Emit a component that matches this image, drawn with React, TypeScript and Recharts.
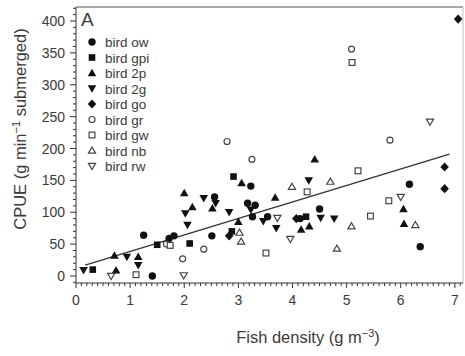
import React from "react";
import { ScatterChart, Scatter, XAxis, YAxis, ReferenceLine } from "recharts";

// values (x = fish density, y = CPUE)
const birdOw = [
  { x: 1.41, y: 0 }, { x: 1.25, y: 64 }, { x: 1.72, y: 59 }, { x: 1.81, y: 63 },
  { x: 2.51, y: 63 }, { x: 2.56, y: 124 }, { x: 3.23, y: 141 }, { x: 3.17, y: 114 },
  { x: 3.31, y: 111 }, { x: 3.26, y: 93 }, { x: 3.54, y: 93 }, { x: 4.14, y: 90 },
  { x: 4.5, y: 105 }, { x: 6.16, y: 144 }, { x: 6.36, y: 46 },
];
const birdGpi = [
  { x: 0.31, y: 10 }, { x: 1.5, y: 49 }, { x: 2.1, y: 51 }, { x: 2.91, y: 156 },
  { x: 2.88, y: 70 }, { x: 4.25, y: 93 },
];
const bird2p = [
  { x: 0.74, y: 9 }, { x: 0.71, y: 32 }, { x: 1.15, y: 30 }, { x: 2.0, y: 130 },
  { x: 2.15, y: 108 }, { x: 2.52, y: 106 }, { x: 3.06, y: 146 }, { x: 3.0, y: 85 },
  { x: 3.68, y: 123 }, { x: 4.41, y: 183 }, { x: 4.16, y: 73 }, { x: 4.31, y: 78 },
  { x: 6.05, y: 105 }, { x: 6.06, y: 82 },
];
const bird2g = [
  { x: 0.14, y: 9 }, { x: 0.94, y: 30 }, { x: 1.15, y: 17 }, { x: 2.02, y: 98 },
  { x: 2.06, y: 80 }, { x: 2.36, y: 122 }, { x: 2.58, y: 114 }, { x: 2.83, y: 100 },
  { x: 3.23, y: 104 }, { x: 3.46, y: 86 }, { x: 3.7, y: 75 }, { x: 4.3, y: 150 },
  { x: 4.52, y: 91 }, { x: 4.77, y: 90 },
];
const birdGo = [
  { x: 2.83, y: 63 }, { x: 4.07, y: 90 }, { x: 6.81, y: 171 }, { x: 6.81, y: 137 },
  { x: 7.06, y: 403 },
];
const birdGr = [
  { x: 1.67, y: 50 }, { x: 1.97, y: 27 }, { x: 2.36, y: 42 }, { x: 2.79, y: 211 },
  { x: 3.25, y: 183 }, { x: 5.09, y: 356 }, { x: 5.8, y: 213 },
];
const birdGw = [
  { x: 1.11, y: 2 }, { x: 1.74, y: 48 }, { x: 3.51, y: 36 }, { x: 4.27, y: 132 },
  { x: 5.21, y: 165 }, { x: 5.44, y: 94 }, { x: 5.78, y: 118 }, { x: 5.1, y: 335 },
];
const birdNb = [
  { x: 3.02, y: 68 }, { x: 3.05, y: 54 }, { x: 3.99, y: 140 }, { x: 4.7, y: 148 },
  { x: 4.82, y: 43 }, { x: 5.09, y: 78 }, { x: 6.27, y: 80 },
];
const birdRw = [
  { x: 0.65, y: 0 }, { x: 1.99, y: 1 }, { x: 3.72, y: 91 }, { x: 3.96, y: 58 },
  { x: 6.0, y: 124 }, { x: 6.54, y: 242 },
];

const fitX = [0.17, 6.9];
const fitY = [17, 191];

const xMajor = [0, 1, 2, 3, 4, 5, 6, 7];
const yMajor = [0, 50, 100, 150, 200, 250, 300, 350, 400];
const xTicks = Array.from({ length: 72 }, (_, i) => i / 10);
const yTicks = Array.from({ length: 44 }, (_, i) => i * 10 - 10);

const INK = "#111";
const OPEN = "#444";
const TXT = "#3a3a3a";
const FONT = "'Liberation Sans', Arial, Helvetica, sans-serif";

type Kind = "circle" | "square" | "up" | "down" | "diamond" | "ocircle" | "osquare" | "oup" | "odown";

function Marker({ kind, cx, cy }: { kind: Kind; cx: number; cy: number }) {
  const open = kind.startsWith("o") && kind !== "circle";
  const fill = open ? "#fff" : INK;
  const stroke = open ? OPEN : "none";
  const sw = open ? 1.2 : 0;
  switch (kind) {
    case "circle":
      return <circle cx={cx} cy={cy} r={3.7} fill={fill} />;
    case "ocircle":
      return <circle cx={cx} cy={cy} r={3} fill={fill} stroke={stroke} strokeWidth={sw} />;
    case "square":
      return <rect x={cx - 3.3} y={cy - 3.3} width={6.6} height={6.6} fill={fill} />;
    case "osquare":
      return <rect x={cx - 2.9} y={cy - 2.9} width={5.8} height={5.8} fill={fill} stroke={stroke} strokeWidth={sw} />;
    case "up":
      return <path d={`M${cx},${cy - 4.3}L${cx + 4.3},${cy + 3.2}L${cx - 4.3},${cy + 3.2}Z`} fill={fill} />;
    case "down":
      return <path d={`M${cx},${cy + 4.3}L${cx + 4.3},${cy - 3.2}L${cx - 4.3},${cy - 3.2}Z`} fill={fill} />;
    case "oup":
      return <path d={`M${cx},${cy - 3.5}L${cx + 3.6},${cy + 2.6}L${cx - 3.6},${cy + 2.6}Z`} fill={fill} stroke={stroke} strokeWidth={sw} />;
    case "odown":
      return <path d={`M${cx},${cy + 3.5}L${cx + 3.6},${cy - 2.6}L${cx - 3.6},${cy - 2.6}Z`} fill={fill} stroke={stroke} strokeWidth={sw} />;
    case "diamond":
      return <path d={`M${cx},${cy - 4.6}L${cx + 4.3},${cy}L${cx},${cy + 4.6}L${cx - 4.3},${cy}Z`} fill={fill} />;
  }
  return null;
}

const series: { name: string; kind: Kind; data: { x: number; y: number }[] }[] = [
  { name: "bird ow", kind: "circle", data: birdOw },
  { name: "bird gpi", kind: "square", data: birdGpi },
  { name: "bird 2p", kind: "up", data: bird2p },
  { name: "bird 2g", kind: "down", data: bird2g },
  { name: "bird go", kind: "diamond", data: birdGo },
  { name: "bird gr", kind: "ocircle", data: birdGr },
  { name: "bird gw", kind: "osquare", data: birdGw },
  { name: "bird nb", kind: "oup", data: birdNb },
  { name: "bird rw", kind: "odown", data: birdRw },
];

const isMajor = (v: number, step: number) => Math.abs(v / step - Math.round(v / step)) < 1e-6;

function XTick(props: any) {
  const { x, y, payload } = props;
  const v = payload.value;
  const major = isMajor(v, 1) && xMajor.includes(Math.round(v));
  return (
    <g>
      <line x1={x} x2={x} y1={y} y2={y + (major ? 5 : 3)} stroke="#333" strokeWidth={1} />
      {major && (
        <text x={x} y={y + 22} textAnchor="middle" fontSize={14} fill={TXT} fontFamily={FONT}>
          {Math.round(v)}
        </text>
      )}
    </g>
  );
}

function YTick(props: any) {
  const { x, y, payload } = props;
  const v = payload.value;
  const major = isMajor(v, 50) && yMajor.includes(Math.round(v));
  return (
    <g>
      <line x1={x - (major ? 6 : 3)} x2={x} y1={y} y2={y} stroke="#333" strokeWidth={1} />
      {major && (
        <text x={x - 11} y={y + 5} textAnchor="end" fontSize={14} fill={TXT} fontFamily={FONT}>
          {Math.round(v)}
        </text>
      )}
    </g>
  );
}

export default function App() {
  return (
    <div style={{ position: "relative", width: 465, height: 356, background: "#fff" }}>
      <style>{"body{margin:0;background:#fff}"}</style>
      <ScatterChart width={465} height={356} margin={{ top: 7, right: 2, bottom: 0, left: 0 }}>
        <XAxis
          type="number"
          dataKey="x"
          domain={[0, 7.15]}
          ticks={xTicks}
          interval={0}
          height={73}
          tickSize={0}
          tickMargin={0}
          tickLine={false}
          tick={<XTick />}
          axisLine={{ stroke: "#333" }}
        />
        <YAxis
          type="number"
          dataKey="y"
          domain={[-11, 422]}
          ticks={yTicks}
          interval={0}
          width={76}
          tickSize={0}
          tickMargin={0}
          tickLine={false}
          tick={<YTick />}
          axisLine={{ stroke: "#333" }}
        />
        <ReferenceLine y={422} stroke="#555" strokeWidth={1.2} ifOverflow="extendDomain" />
        <ReferenceLine x={7.15} stroke="#bbb" strokeWidth={1} ifOverflow="extendDomain" />
        <ReferenceLine
          segment={[{ x: fitX[0], y: fitY[0] }, { x: fitX[1], y: fitY[1] }]}
          stroke="#333"
          strokeWidth={1.3}
        />
        {series.map((s) => (
          <Scatter
            key={s.name}
            name={s.name}
            data={s.data}
            isAnimationActive={false}
            shape={(p: any) => <Marker kind={s.kind} cx={p.cx} cy={p.cy} />}
          />
        ))}
      </ScatterChart>
      <svg width={465} height={356} style={{ position: "absolute", left: 0, top: 0, pointerEvents: "none" }}>
        <text x={81} y={26} fontSize={19} fill={TXT} fontFamily={FONT}>A</text>
        {series.map((s, i) => {
          const cy = 42 + i * 15.5;
          return (
            <g key={s.name}>
              <Marker kind={s.kind} cx={92} cy={cy} />
              <text x={105} y={cy + 5} fontSize={13.5} fill={TXT} fontFamily={FONT}>{s.name}</text>
            </g>
          );
        })}
        <text x={308} y={343} textAnchor="middle" fontSize={16.5} fill={TXT} fontFamily={FONT}>
          Fish density (g m<tspan dy={-6} fontSize={11}>−3</tspan><tspan dy={6}>)</tspan>
        </text>
        <text
          x={26}
          y={129}
          transform="rotate(-90, 26, 129)"
          textAnchor="middle"
          fontSize={16.5}
          fill={TXT}
          fontFamily={FONT}
        >
          CPUE (g min<tspan dy={-6} fontSize={11}>−1</tspan><tspan dy={6}> submerged)</tspan>
        </text>
      </svg>
    </div>
  );
}
